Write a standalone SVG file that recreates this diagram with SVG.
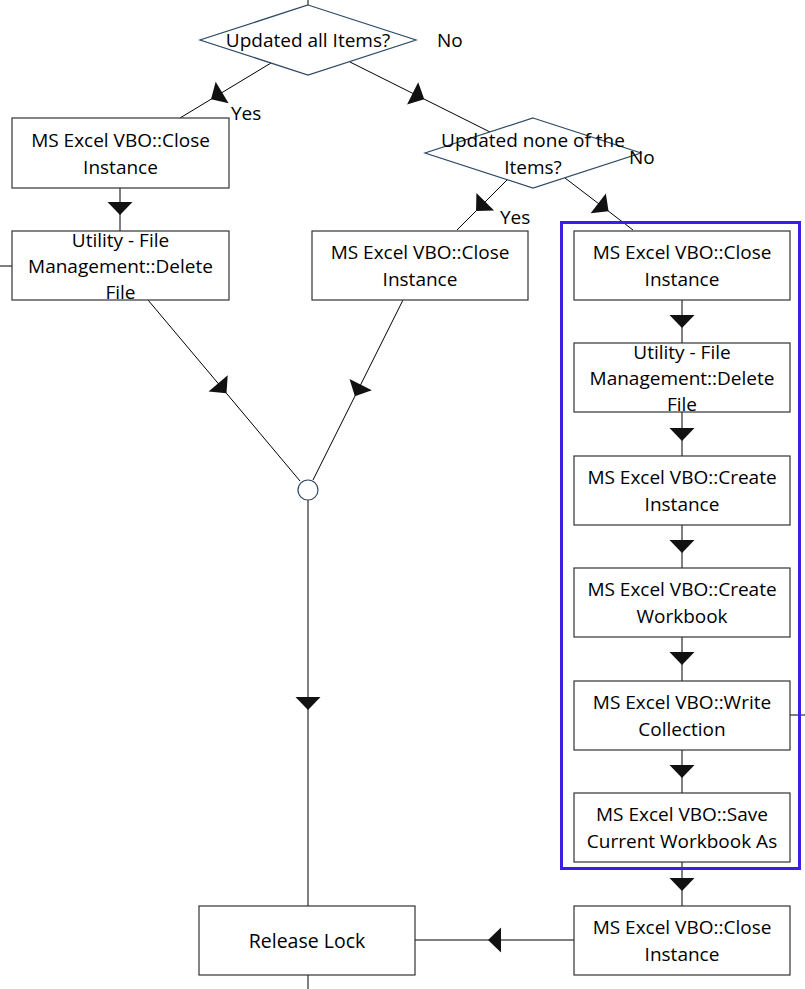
<svg xmlns="http://www.w3.org/2000/svg" width="805" height="989" viewBox="0 0 805 989">
<style>
  .box { fill: #ffffff; stroke: #333333; stroke-width: 1.2; }
  .dia { fill: #ffffff; stroke: #2f4a66; stroke-width: 1.2; }
  .lbl { font-family: "Open Sans", "Noto Sans", sans-serif; font-size: 19px; fill: #000000; text-anchor: middle; dominant-baseline: central; }
  .side { font-family: "Open Sans", "Noto Sans", sans-serif; font-size: 19px; fill: #000000; dominant-baseline: central; }
  .ln { fill: none; stroke: #000000; stroke-width: 1; marker-mid: url(#arr); }
  .plain { fill: none; stroke: #000000; stroke-width: 1; }
  .grp { fill: none; stroke: #3a1fe8; stroke-width: 3; }
</style>
<defs>
  <marker id="arr" viewBox="-8 -14 16 28" markerWidth="16" markerHeight="28" refX="0" refY="0" orient="auto" markerUnits="userSpaceOnUse">
    <path d="M7,0 L-6,-12.5 L-6,12.5 Z" fill="#111111"/>
  </marker>
</defs>

<g id="connectors">
  <polyline class="plain" points="308,0 308,5"/>
  <polyline class="ln" points="271,63 217,95.6 180,118"/>
  <polyline class="ln" points="350,62 418,96 490,132"/>
  <polyline class="ln" points="507,180 481,206 457,230"/>
  <polyline class="ln" points="565,178 603,207 633,230"/>
  <polyline class="ln" points="120,188 120,208 120,231"/>
  <polyline class="plain" points="0,266 12,266"/>
  <polyline class="ln" points="148,300 222,388 300,481"/>
  <polyline class="ln" points="403,300 358,390 313,480"/>
  <polyline class="ln" points="308,500 308,703 308,906"/>
  <polyline class="ln" points="682,300 682,321 682,343"/>
  <polyline class="ln" points="682,412 682,434 682,456"/>
  <polyline class="ln" points="682,525 682,546 682,568"/>
  <polyline class="ln" points="682,637 682,658 682,681"/>
  <polyline class="ln" points="682,750 682,771 682,793"/>
  <polyline class="ln" points="682,862 682,884 682,906"/>
  <polyline class="plain" points="790,715 805,715"/>
  <polyline class="ln" points="574,940 495,940 415,940"/>
  <polyline class="plain" points="308,975 308,989"/>
</g>

<g id="group-block">
  <rect class="grp" x="561.5" y="222.5" width="238" height="646"/>
</g>

<g id="d1">
  <polygon class="dia" points="308,5 416,40 308,75 200,40"/>
  <text class="lbl" x="308" y="40">Updated all Items?</text>
  <text class="side" x="437" y="40">No</text>
  <text class="side" x="231" y="113">Yes</text>
</g>

<g id="d2">
  <polygon class="dia" points="533,118 641,153 533,188 425,153"/>
  <text class="lbl" x="533" y="140">Updated none of the</text>
  <text class="lbl" x="533" y="167">Items?</text>
  <text class="side" x="629" y="157">No</text>
  <text class="side" x="500" y="217">Yes</text>
</g>

<g id="n-close-left">
  <rect class="box" x="12" y="118" width="217" height="70"/>
  <text class="lbl" x="120.5" y="140">MS Excel VBO::Close</text>
  <text class="lbl" x="120.5" y="167">Instance</text>
</g>

<g id="n-delete-left">
  <rect class="box" x="12" y="231" width="217" height="69"/>
  <text class="lbl" x="120.5" y="240">Utility - File</text>
  <text class="lbl" x="120.5" y="266">Management::Delete</text>
  <text class="lbl" x="120.5" y="292">File</text>
</g>

<g id="n-close-mid">
  <rect class="box" x="312" y="231" width="216" height="69"/>
  <text class="lbl" x="420" y="252">MS Excel VBO::Close</text>
  <text class="lbl" x="420" y="279">Instance</text>
</g>

<g id="junction">
  <circle cx="308" cy="490" r="10" fill="#ffffff" stroke="#2f4a66" stroke-width="1.2"/>
</g>

<g id="n-close-r1">
  <rect class="box" x="574" y="231" width="216" height="69"/>
  <text class="lbl" x="682" y="252">MS Excel VBO::Close</text>
  <text class="lbl" x="682" y="279">Instance</text>
</g>

<g id="n-delete-r">
  <rect class="box" x="574" y="343" width="216" height="69"/>
  <text class="lbl" x="682" y="352">Utility - File</text>
  <text class="lbl" x="682" y="378">Management::Delete</text>
  <text class="lbl" x="682" y="404">File</text>
</g>

<g id="n-create-inst">
  <rect class="box" x="574" y="456" width="216" height="69"/>
  <text class="lbl" x="682" y="477">MS Excel VBO::Create</text>
  <text class="lbl" x="682" y="504">Instance</text>
</g>

<g id="n-create-wb">
  <rect class="box" x="574" y="568" width="216" height="69"/>
  <text class="lbl" x="682" y="589">MS Excel VBO::Create</text>
  <text class="lbl" x="682" y="616">Workbook</text>
</g>

<g id="n-write">
  <rect class="box" x="574" y="681" width="216" height="69"/>
  <text class="lbl" x="682" y="702">MS Excel VBO::Write</text>
  <text class="lbl" x="682" y="729">Collection</text>
</g>

<g id="n-save">
  <rect class="box" x="574" y="793" width="216" height="69"/>
  <text class="lbl" x="682" y="814">MS Excel VBO::Save</text>
  <text class="lbl" x="682" y="841">Current Workbook As</text>
</g>

<g id="n-close-r2">
  <rect class="box" x="574" y="906" width="216" height="69"/>
  <text class="lbl" x="682" y="927">MS Excel VBO::Close</text>
  <text class="lbl" x="682" y="954">Instance</text>
</g>

<g id="n-release">
  <rect class="box" x="199" y="906" width="216" height="69"/>
  <text class="lbl" x="307" y="940" style="font-size:19.5px">Release Lock</text>
</g>
</svg>
